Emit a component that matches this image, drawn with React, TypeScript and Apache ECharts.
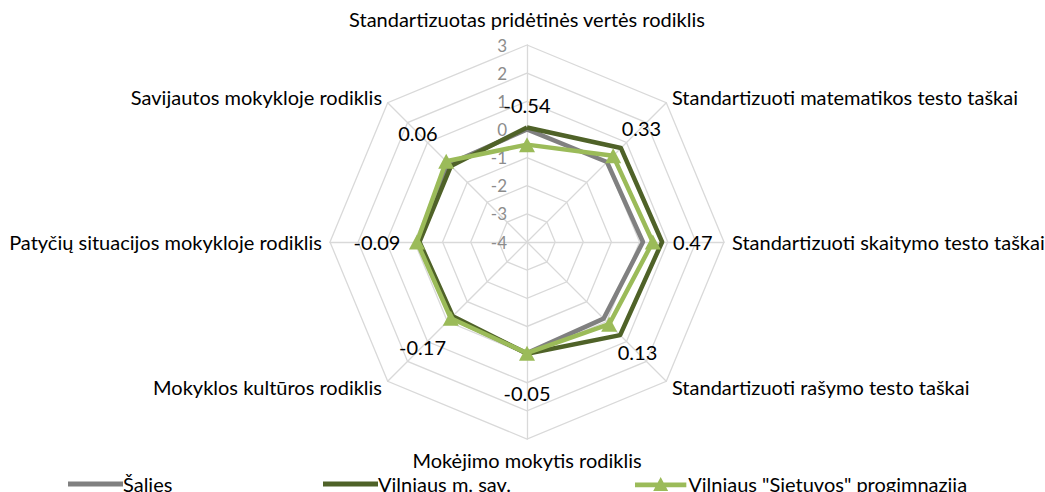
import React, { useEffect, useRef } from 'react';
import * as echarts from 'echarts';

// Indicators in the reference's clockwise order, starting from the top
const indicatorNames = [
  'Standartizuotas pridėtinės vertės rodiklis',
  'Standartizuoti matematikos testo taškai',
  'Standartizuoti skaitymo testo taškai',
  'Standartizuoti rašymo testo taškai',
  'Mokėjimo mokytis rodiklis',
  'Mokyklos kultūros rodiklis',
  'Patyčių situacijos mokykloje rodiklis',
  'Savijautos mokykloje rodiklis',
];

const seriesNames = ['Šalies', 'Vilniaus m. sav.', 'Vilniaus "Sietuvos" progimnazija'];

const saliesValues = [0.0, 0.02, 0.12, -0.15, -0.05, -0.2, -0.12, -0.08];
const vilniausValues = [0.07, 0.72, 0.8, 0.68, -0.03, -0.27, -0.18, -0.18];
const sietuvosValues = [-0.54, 0.33, 0.47, 0.13, -0.05, -0.17, -0.09, 0.06];

const axisMin = -4;
const axisMax = 3;
const axisSplits = 7;

const CX = 527;
const CY = 242;
const RADIUS = 197;
const LABEL_DIST = 40;
const FONT = 'Lato, "Open Sans", sans-serif';

// ECharts radar runs counter-clockwise; reorder so it reads clockwise like the reference
const order = [0, 7, 6, 5, 4, 3, 2, 1];
const reorder = (arr: number[]) => order.map((i) => arr[i]);

const nameGaps = [16, 8, 8, 8, 11, 8, 8, 8];

const lineIcon = 'path://M0,0H55V5H0Z';
const triIcon = 'path://M0,6H55V11H0Z M27.5,0L35.5,15H19.5Z';

export default function App() {
  const ref = useRef<HTMLDivElement>(null);
  useEffect(() => {
    if (!ref.current) return;
    const chart = echarts.init(ref.current, undefined, { renderer: 'svg' });
    const indicator = order.map((i, k) => {
      const ind: any = {
        name: indicatorNames[i],
        min: axisMin,
        max: axisMax,
        nameGap: nameGaps[i],
      };
      if (k !== 0) ind.axisLabel = { show: false };
      return ind;
    });
    const legendBase = {
      top: 474,
      padding: 0,
      itemWidth: 55,
      itemHeight: 14,
      itemGap: 0,
      textStyle: {
        fontFamily: FONT,
        fontSize: 20,
        lineHeight: 20,
        color: '#000',
        padding: [0, 0, 0, -5],
      },
    };
    chart.setOption({
      animation: false,
      backgroundColor: '#fff',
      legend: [
        { ...legendBase, left: 68, data: [{ name: seriesNames[0], icon: lineIcon }] },
        { ...legendBase, left: 323, data: [{ name: seriesNames[1], icon: lineIcon }] },
        { ...legendBase, left: 635, data: [{ name: seriesNames[2], icon: triIcon }] },
      ],
      radar: {
        center: [CX, CY],
        radius: RADIUS,
        startAngle: 90,
        shape: 'polygon',
        splitNumber: axisSplits,
        indicator,
        axisName: { color: '#000', fontFamily: FONT, fontSize: 20 },
        axisLine: { show: true, lineStyle: { color: '#d9d9d9', width: 1.3 } },
        splitLine: { show: true, lineStyle: { color: '#d9d9d9', width: 1.3 } },
        splitArea: { show: false },
        axisTick: { show: false },
        axisLabel: {
          show: true,
          color: '#8c8c8c',
          fontFamily: FONT,
          fontSize: 17,
          margin: 20,
          showMinLabel: true,
          showMaxLabel: true,
        },
      },
      series: [
        {
          type: 'radar',
          z: 2,
          symbol: 'none',
          data: [
            {
              name: seriesNames[0],
              value: reorder(saliesValues),
              lineStyle: { color: '#808080', width: 4.5 },
              itemStyle: { color: '#808080' },
            },
          ],
        },
        {
          type: 'radar',
          z: 3,
          symbol: 'none',
          data: [
            {
              name: seriesNames[1],
              value: reorder(vilniausValues),
              lineStyle: { color: '#4f6228', width: 4.5 },
              itemStyle: { color: '#4f6228' },
            },
          ],
        },
        {
          type: 'radar',
          z: 4,
          symbol: 'triangle',
          symbolSize: [16, 15],
          data: [
            {
              name: seriesNames[2],
              value: reorder(sietuvosValues),
              lineStyle: { color: '#9bbb59', width: 4.5 },
              itemStyle: { color: '#9bbb59' },
              label: {
                show: true,
                color: '#000',
                fontFamily: FONT,
                fontSize: 20,
              },
            },
          ],
          labelLayout: (params: any) => {
            const r = params.rect;
            const px = r.x + r.width / 2;
            const py = r.y + r.height / 2;
            const dx = px - CX;
            const dy = py - CY;
            const d = Math.hypot(dx, dy) || 1;
            return {
              x: px + (dx / d) * LABEL_DIST,
              y: py + (dy / d) * LABEL_DIST,
              align: 'center',
              verticalAlign: 'middle',
            };
          },
        },
      ],
    });
    return () => chart.dispose();
  }, []);
  return (
    <div
      ref={ref}
      style={{ position: 'absolute', left: 0, top: 0, width: 1045, height: 492 }}
    />
  );
}
